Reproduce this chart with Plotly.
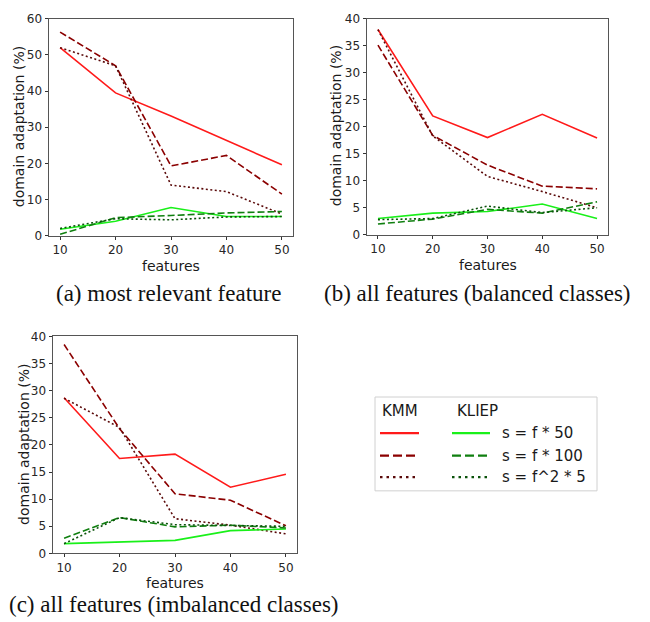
import plotly.graph_objects as go

W, H = 650, 622

features = [10, 20, 30, 40, 50]

# (a) most relevant feature
a_kmm_50 = [52.0, 39.5, 33.1, 26.4, 19.6]
a_kmm_100 = [56.3, 47.0, 19.3, 22.2, 11.5]
a_kmm_f2 = [52.0, 47.0, 14.0, 12.2, 6.0]
a_kliep_50 = [1.8, 4.0, 7.8, 5.3, 5.3]
a_kliep_100 = [0.4, 5.0, 5.6, 6.3, 6.7]
a_kliep_f2 = [2.0, 4.7, 4.4, 5.2, 5.3]

# (b) all features, balanced classes
b_kmm_50 = [38.0, 22.0, 18.0, 22.3, 17.9]
b_kmm_100 = [35.1, 18.4, 12.9, 9.0, 8.5]
b_kmm_f2 = [38.0, 18.3, 10.8, 8.0, 5.0]
b_kliep_50 = [3.0, 4.0, 4.3, 5.7, 3.0]
b_kliep_100 = [2.0, 2.9, 4.7, 4.0, 6.1]
b_kliep_f2 = [2.8, 3.0, 5.3, 4.1, 5.0]

# (c) all features, imbalanced classes
c_kmm_50 = [28.7, 17.5, 18.3, 12.2, 14.6]
c_kmm_100 = [38.5, 23.0, 11.0, 9.8, 5.1]
c_kmm_f2 = [28.6, 23.2, 6.4, 5.2, 3.6]
c_kliep_50 = [1.8, 2.1, 2.4, 4.2, 4.5]
c_kliep_100 = [2.8, 6.6, 4.9, 5.2, 4.7]
c_kliep_f2 = [1.8, 6.6, 5.3, 5.1, 5.0]

series_labels = ["s = f * 50", "s = f * 100", "s = f^2 * 5"]
method_labels = ["KMM", "KLIEP"]
captions = ["(a) most relevant feature",
            "(b) all features (balanced classes)",
            "(c) all features (imbalanced classes)"]

panels = [
    [a_kmm_50, a_kmm_100, a_kmm_f2, a_kliep_50, a_kliep_100, a_kliep_f2],
    [b_kmm_50, b_kmm_100, b_kmm_f2, b_kliep_50, b_kliep_100, b_kliep_f2],
    [c_kmm_50, c_kmm_100, c_kmm_f2, c_kliep_50, c_kliep_100, c_kliep_f2],
]
y_ranges = [[0, 60], [0, 40], [0, 40]]
y_dticks = [10, 5, 5]

# line styles: KMM (reds) then KLIEP (greens); solid, dashed, dotted
colors = ["#ff1a1a", "#8b0000", "#5a0a0a", "#19f019", "#0f7f0f", "#0a520a"]
DASHED = "7px,3px"
DOTTED = "2px,2.5px"
dashes = ["solid", DASHED, DOTTED, "solid", DASHED, DOTTED]

# axes boxes in pixels: (left, right, top, bottom)
boxes = [(49, 293, 12, 234), (367, 608, 12, 233), (53, 297, 337, 559)]


def px_x(x):
    return x / W


def px_y(y):
    return 1 - y / H


fig = go.Figure()
TICKFONT = dict(family="DejaVu Sans", size=12, color="#262626")

for i, (data, box) in enumerate(zip(panels, boxes)):
    n = "" if i == 0 else str(i + 1)
    for vals, col, dash in zip(data, colors, dashes):
        fig.add_trace(go.Scatter(
            x=features, y=vals, mode="lines",
            line=dict(color=col, width=1.6, dash=dash),
            xaxis="x" + n, yaxis="y" + n, showlegend=False,
            hoverinfo="skip"))
    l, r, t, b = box
    fig.layout["xaxis" + n] = dict(
        domain=[px_x(l), px_x(r)], range=[8, 52], anchor="y" + n,
        tickvals=features, ticks="outside", ticklen=3, tickcolor="#333",
        showgrid=False, zeroline=False, showline=True, mirror=True,
        linecolor="#555", linewidth=1, tickfont=TICKFONT)
    fig.layout["yaxis" + n] = dict(
        domain=[px_y(b), px_y(t)], range=y_ranges[i], anchor="x" + n,
        dtick=y_dticks[i], ticks="outside", ticklen=3.5, tickcolor="#333",
        showgrid=False, zeroline=False, showline=True, mirror=True,
        linecolor="#555", linewidth=1, tickfont=TICKFONT)

annotations = []
LABELFONT = dict(family="DejaVu Sans", size=14, color="#1a1a1a")
# axis titles
xlabel_pos = [(171, 265), (488, 264), (175, 589)]
ylabel_pos = [(19, 123), (336, 122), (24, 448)]
for (x, y) in xlabel_pos:
    annotations.append(dict(text="features", x=px_x(x), y=px_y(y),
                            xref="paper", yref="paper", showarrow=False,
                            xanchor="center", yanchor="middle", font=LABELFONT))
for (x, y) in ylabel_pos:
    annotations.append(dict(text="domain adaptation (%)", x=px_x(x), y=px_y(y),
                            xref="paper", yref="paper", showarrow=False,
                            textangle=-90, xanchor="center", yanchor="middle",
                            font=LABELFONT))

# panel captions
CAPFONT = dict(family="Liberation Serif", size=23, color="#111")
caption_pos = [(168, 293, "center"), (477, 293, "center"), (7, 611, "left")]
for cap, (x, y, anc) in zip(captions, caption_pos):
    annotations.append(dict(text=cap, x=px_x(x), y=px_y(y), xref="paper",
                            yref="paper", showarrow=False, xanchor=anc,
                            yanchor="middle", font=CAPFONT))

# legend box with two method columns and shared labels
shapes = [dict(type="rect", xref="paper", yref="paper",
               x0=px_x(375), x1=px_x(597), y0=px_y(495), y1=px_y(399),
               line=dict(color="#d0d0d0", width=1), fillcolor="white",
               layer="below")]
LEGFONT = dict(family="DejaVu Sans", size=15, color="#1a1a1a")
annotations.append(dict(text=method_labels[0], x=px_x(380), y=px_y(413),
                        xref="paper", yref="paper", showarrow=False,
                        xanchor="left", yanchor="middle", font=LEGFONT))
annotations.append(dict(text=method_labels[1], x=px_x(455), y=px_y(413),
                        xref="paper", yref="paper", showarrow=False,
                        xanchor="left", yanchor="middle", font=LEGFONT))
row_y = [436, 459, 481]
legend_dash = ["solid", "9px,4px", "2.5px,4px"]
for k, ry in enumerate(row_y):
    for j, (x0, x1) in enumerate([(380, 419), (452, 490)]):
        idx = j * 3 + k
        shapes.append(dict(type="line", xref="paper", yref="paper",
                           x0=px_x(x0), x1=px_x(x1), y0=px_y(ry), y1=px_y(ry),
                           line=dict(color=colors[idx], width=2.2,
                                     dash=legend_dash[k])))
    annotations.append(dict(text=series_labels[k], x=px_x(500), y=px_y(ry),
                            xref="paper", yref="paper", showarrow=False,
                            xanchor="left", yanchor="middle", font=LEGFONT))

fig.update_layout(width=W, height=H, margin=dict(l=0, r=0, t=0, b=0),
                  paper_bgcolor="white", plot_bgcolor="white",
                  annotations=annotations, shapes=shapes, showlegend=False)

fig.write_html("out.html")
